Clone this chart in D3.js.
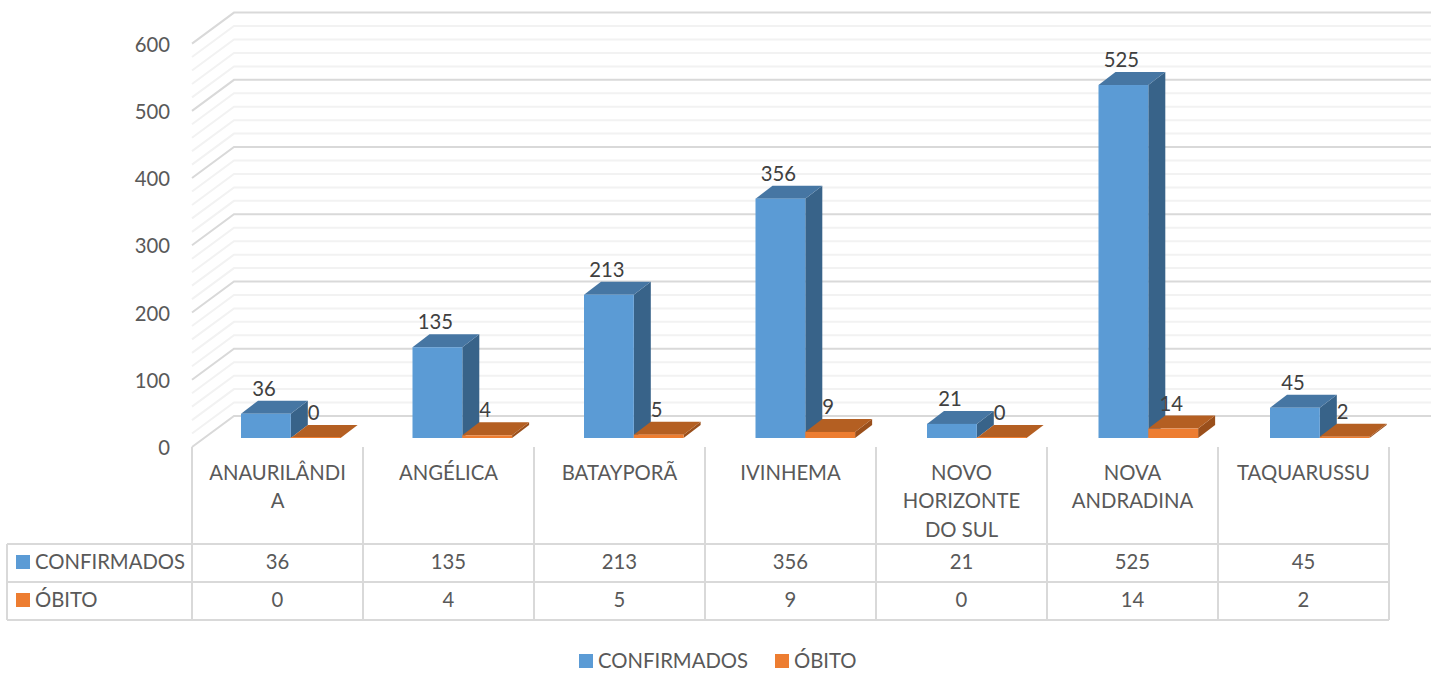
<!DOCTYPE html>
<html lang="en">
<head>
    <meta charset="UTF-8">
    <title>Casos</title>
    <script src="https://cdn.jsdelivr.net/npm/d3@7"></script>
    <style>
        html, body {
            margin: 0;
            background: #fff;
        }

        svg {
            display: block;
        }

        text {
            font-family: Lato, "Open Sans", sans-serif;
            font-size: 20.3px;
            fill: #595959;
        }
    </style>
</head>
<body>
<div id="graphDiv"></div>
<script>
    var categories = ["ANAURILÂNDIA", "ANGÉLICA", "BATAYPORÃ", "IVINHEMA", "NOVO HORIZONTE DO SUL", "NOVA ANDRADINA", "TAQUARUSSU"];
    var categoryLines = [["ANAURILÂNDI", "A"], ["ANGÉLICA"], ["BATAYPORÃ"], ["IVINHEMA"], ["NOVO", "HORIZONTE", "DO SUL"], ["NOVA", "ANDRADINA"], ["TAQUARUSSU"]];
    var confirmados = [36, 135, 213, 356, 21, 525, 45];
    var obito = [0, 4, 5, 9, 0, 14, 2];
    var yTicks = [0, 100, 200, 300, 400, 500, 600];
    var minorTicks = d3.range(0, 601, 20);

    var seriesList = [
        {name: "CONFIRMADOS", values: confirmados, front: "#5b9bd5", side: "#386389", top: "#4676a3"},
        {name: "ÓBITO", values: obito, front: "#ed7d31", side: "#9a4f1b", top: "#b45f22"}
    ];

    var svg = d3.select("#graphDiv").append("svg")
        .attr("width", 1439)
        .attr("height", 673);

    // front plane of the floor is y(0) = 447, bars sit a bit deeper
    var yFront = d3.scaleLinear().domain([0, 600]).range([447, 43.6]);
    var x = d3.scaleBand().domain(categories).range([192, 1389]);
    // perspective makes the bars step a little wider than the table cells
    var xBars = d3.scaleBand().domain(categories).range([192, 1392.5]);
    var wallDx = 42, wallDy = 31, wallRight = 1431;
    var barInset = 49, barWidth = 49.8, barDx = 17, barDy = 13, floorShift = 9;

    // walls
    minorTicks.forEach(function (t) {
        var major = t % 100 == 0;
        var y0 = yFront(t);
        svg.append("polyline")
            .attr("points", [[192, y0], [192 + wallDx, y0 - wallDy], [wallRight, y0 - wallDy]].join(" "))
            .attr("fill", "none")
            .attr("stroke", major ? "#d9d9d9" : "#f2f2f2")
            .attr("stroke-width", 2);
    });

    // y axis
    var yAxis = svg.append("g")
        .attr("transform", "translate(170,1)")
        .call(d3.axisLeft(yFront).tickValues(yTicks).tickSize(0).tickPadding(0));
    yAxis.select(".domain").remove();
    yAxis.selectAll("text").style("font-size", "20.3px").style("font-family", "Lato").attr("fill", "#595959");

    // table grid
    var tableX = 7, rowTops = [544, 582, 620];
    var gridColor = "#d9d9d9";
    function gridLine(x1, y1, x2, y2) {
        svg.append("line")
            .attr("x1", x1).attr("y1", y1)
            .attr("x2", x2).attr("y2", y2)
            .attr("stroke", gridColor)
            .attr("stroke-width", 2);
    }
    rowTops.forEach(function (y) {
        gridLine(tableX, y, 1389, y);
    });
    gridLine(tableX, rowTops[0], tableX, rowTops[2]);
    categories.forEach(function (c) {
        gridLine(x(c), 447, x(c), rowTops[2]);
    });
    gridLine(1389, 447, 1389, rowTops[2]);

    // bars
    seriesList.forEach(function (s, si) {
        s.values.forEach(function (v, i) {
            var left = xBars(categories[i]) + barInset + si * barWidth;
            var right = left + barWidth;
            var base = yFront(0) - floorShift;
            var top = yFront(v) - floorShift;

            svg.append("polygon")
                .attr("points", [[right, base], [right + barDx, base - barDy], [right + barDx, top - barDy], [right, top]].join(" "))
                .attr("fill", s.side);
            svg.append("polygon")
                .attr("points", [[left, top], [left + barDx, top - barDy], [right + barDx, top - barDy], [right, top]].join(" "))
                .attr("fill", s.top);
            svg.append("rect")
                .attr("x", left)
                .attr("y", top - (v == 0 ? 1 : 0))
                .attr("width", barWidth)
                .attr("height", Math.max(base - top, 1))
                .attr("fill", s.front);
        });
    });

    // data labels
    seriesList.forEach(function (s, si) {
        s.values.forEach(function (v, i) {
            svg.append("text")
                .attr("x", xBars(categories[i]) + barInset + si * barWidth + barWidth / 2 - 2)
                .attr("y", yFront(v) - floorShift - 25)
                .attr("dy", "0.35em")
                .attr("text-anchor", "middle")
                .style("fill", "#404040")
                .text(v);
        });
    });

    // category labels
    var lineYs = [473, 501, 530];
    categories.forEach(function (c, i) {
        categoryLines[i].forEach(function (line, k) {
            svg.append("text")
                .attr("x", x(c) + x.bandwidth() / 2)
                .attr("y", lineYs[k])
                .attr("dy", "0.35em")
                .attr("text-anchor", "middle")
                .text(line);
        });
    });

    // table rows
    var rowMids = [562, 600];
    seriesList.forEach(function (s, si) {
        svg.append("rect")
            .attr("x", 16).attr("y", rowMids[si] - 7)
            .attr("width", 14).attr("height", 14)
            .attr("fill", s.front);
        svg.append("text")
            .attr("x", 35).attr("y", rowMids[si])
            .attr("dy", "0.35em")
            .text(s.name);
        s.values.forEach(function (v, i) {
            svg.append("text")
                .attr("x", x(categories[i]) + x.bandwidth() / 2)
                .attr("y", rowMids[si])
                .attr("dy", "0.35em")
                .attr("text-anchor", "middle")
                .text(v);
        });
    });

    // legend
    var legendX = [579, 775];
    seriesList.forEach(function (s, si) {
        svg.append("rect")
            .attr("x", legendX[si]).attr("y", 654)
            .attr("width", 14).attr("height", 14)
            .attr("fill", s.front);
        svg.append("text")
            .attr("x", legendX[si] + 19).attr("y", 661)
            .attr("dy", "0.35em")
            .text(s.name);
    });
</script>
</body>
</html>
